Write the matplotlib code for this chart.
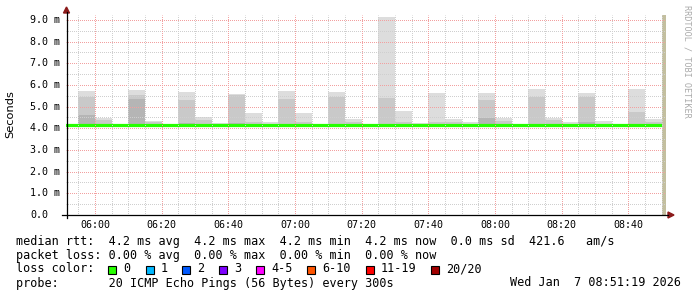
import numpy as np
import matplotlib
matplotlib.use("Agg")
import matplotlib.pyplot as plt
from matplotlib.patches import Rectangle, Polygon
from matplotlib.lines import Line2D

W, H = 697, 297

# time in minutes since midnight
t_start = 5 * 60 + 51 + 19 / 60
t_end = 8 * 60 + 51 + 19 / 60
step_start = np.arange(355, 530, 5)  # 05:55 ... 08:45

# smoke levels per 5-minute step (ms), nan = nothing above median
smoke_top = [5.72, 4.46, np.nan, 5.77, 4.35, np.nan, 5.66, 4.51, 4.25, 5.58, 4.72, 4.30,
             5.74, 4.72, np.nan, 5.68, 4.42, np.nan, 9.15, 4.81, 4.26, 5.64, 4.45, 4.28,
             5.61, 4.46, np.nan, 5.81, 4.49, 4.30, 5.61, 4.35, np.nan, 5.81, 4.42]
smoke_mid = [5.46, 4.38, np.nan, 5.54, 4.30, np.nan, 5.31, 4.40, np.nan, 5.52, 4.30, np.nan,
             5.35, 4.30, np.nan, 5.46, 4.30, np.nan, 5.41, 4.30, np.nan, 4.30, 4.30, np.nan,
             5.31, 4.35, np.nan, 5.46, 4.40, np.nan, 5.46, np.nan, np.nan, 4.77, 4.30]
smoke_low = [4.61, np.nan, np.nan, 5.35, np.nan, np.nan, 4.26, np.nan, np.nan, 4.25, np.nan, np.nan,
             np.nan, np.nan, np.nan, np.nan, np.nan, np.nan, np.nan, np.nan, np.nan, np.nan, np.nan, np.nan,
             4.46, np.nan, np.nan, np.nan, np.nan, np.nan, 4.30, np.nan, np.nan, np.nan, np.nan]
smoke_base = 4.10

# median rtt per step, from 05:50 to 08:50
median_edges = np.arange(350, 535, 5)
median_vals = [4.15, 4.15, 4.14, 4.15, 4.15, 4.14, 4.15, 4.14, 4.15, 4.15, 4.15, 4.14,
               4.15, 4.16, 4.15, 4.15, 4.14, 4.15, 4.15, 4.16, 4.14, 4.14, 4.15, 4.15,
               4.14, 4.15, 4.16, 4.14, 4.15, 4.15, 4.14, 4.15, 4.15, 4.14, 4.15, 4.14]

y_ticks = np.arange(0, 9.5, 1.0)
y_labels = ["0.0"] + [f"{v:.1f} m" for v in y_ticks[1:]]
x_ticks = np.arange(360, 530, 20)
x_labels = ["06:00", "06:20", "06:40", "07:00", "07:20", "07:40", "08:00", "08:20", "08:40"]

loss_labels = ["0", "1", "2", "3", "4-5", "6-10", "11-19", "20/20"]
loss_colors = ["#26ff00", "#00b8ff", "#0059ff", "#7e00ff", "#ff00ff", "#ff5500", "#ff0000", "#a10000"]

MONO = "DejaVu Sans Mono"

fig = plt.figure(figsize=(W / 100, H / 100), dpi=100)
fig.patch.set_facecolor("white")


def fx(x):
    return x / W


def fy(y):
    return 1 - y / H


ax_l, ax_r, ax_t, ax_b = 66, 666, 15, 215
ax = fig.add_axes([fx(ax_l), fy(ax_b), (ax_r - ax_l) / W, (ax_b - ax_t) / H])
ax.set_xlim(t_start, t_end)
ax.set_ylim(0, (ax_b - ax_t) / 21.67)
for s in ax.spines.values():
    s.set_visible(False)
ax.set_xticks([])
ax.set_yticks([])

# grid (dotted, 1 px on / 1 px off), drawn over the data like rrdtool does
dots = (0.5, (1, 1))
for v in np.arange(0.5, 9.3, 0.5):
    major = abs(v - round(v)) < 1e-6
    ax.axhline(v, color="#f2a0a0" if major else "#cfcfcf", lw=0.72, ls=dots, zorder=6,
               snap=True)
for t in np.arange(355, 531, 5):
    major = (t % 20) == 0
    ax.axvline(t, color="#f2a0a0" if major else "#cfcfcf", lw=0.72, ls=dots, zorder=6,
               snap=True)

# smoke
for vals, col in [(smoke_top, "#dddddd"), (smoke_mid, "#c9c9c9"), (smoke_low, "#b5b5b5")]:
    v = np.array(vals)
    ok = ~np.isnan(v)
    ax.bar(step_start[ok], v[ok] - smoke_base, width=5, bottom=smoke_base, align="edge",
           color=col, linewidth=0, zorder=2)

# median line
ax.stairs(median_vals, median_edges, color="#26ff00", lw=2.3, zorder=3, baseline=None)

# unknown region at the end
ax.axvspan(530, t_end, color="#c3bf9f", lw=0, zorder=4)

# axes lines and arrows
fig.add_artist(Line2D([fx(62), fx(668)], [fy(215), fy(215)], color="black", lw=0.9))
fig.add_artist(Line2D([fx(66.5), fx(66.5)], [fy(218), fy(12)], color="black", lw=0.9))
fig.add_artist(Polygon([(fx(668), fy(212)), (fx(674), fy(215)), (fx(668), fy(218))],
                       closed=True, color="#8b1a1a"))
fig.add_artist(Polygon([(fx(63.5), fy(13)), (fx(66.5), fy(7)), (fx(69.5), fy(13))],
                       closed=True, color="#8b1a1a"))

# tick labels
for v, lab in zip(y_ticks, y_labels):
    yy = ax_b - v * 21.67
    fig.text(fx(30), fy(yy), lab, ha="left", va="center", family=MONO, fontsize=7.2)
for t, lab in zip(x_ticks, x_labels):
    xx = ax_l + (t - t_start) * (ax_r - ax_l) / (t_end - t_start)
    fig.text(fx(xx), fy(225), lab, ha="center", va="center", family=MONO, fontsize=7.2)

fig.text(fx(10), fy(114), "Seconds", rotation=90, ha="center", va="center",
         family="DejaVu Sans", fontsize=8.2)
fig.text(fx(687), fy(5), "RRDTOOL / TOBI OETIKER", rotation=270, ha="center", va="top",
         family=MONO, fontsize=6.1, color="#aaaaaa")

# legend text
fs = 8.5
fig.text(fx(16), fy(241), "median rtt:  4.2 ms avg  4.2 ms max  4.2 ms min  4.2 ms now  0.0 ms sd  421.6   am/s",
         ha="left", va="center", family=MONO, fontsize=fs)
fig.text(fx(16), fy(255), "packet loss: 0.00 % avg  0.00 % max  0.00 % min  0.00 % now",
         ha="left", va="center", family=MONO, fontsize=fs)
fig.text(fx(16), fy(269), "loss color:", ha="left", va="center", family=MONO, fontsize=fs)
box_x = [108, 146, 182, 219, 256, 307, 366, 431]
for bx, lab, col in zip(box_x, loss_labels, loss_colors):
    fig.add_artist(Rectangle((fx(bx), fy(273.5)), 8 / W, 8 / H, facecolor=col,
                             edgecolor="black", lw=0.8))
    fig.text(fx(bx + 15), fy(269), lab, ha="left", va="center", family=MONO, fontsize=fs)
fig.text(fx(16), fy(283), "probe:       20 ICMP Echo Pings (56 Bytes) every 300s",
         ha="left", va="center", family=MONO, fontsize=fs)
fig.text(fx(681), fy(283), "Wed Jan  7 08:51:19 2026", ha="right", va="center",
         family=MONO, fontsize=fs)

fig.savefig("out.png", dpi=100, facecolor="white")
